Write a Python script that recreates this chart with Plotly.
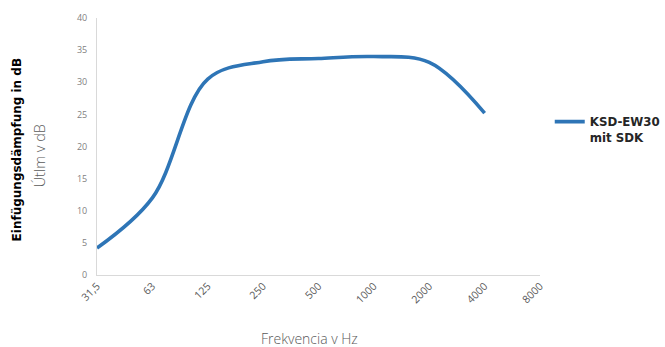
import plotly.graph_objects as go

# Octave-band centre frequencies (axis categories) and tick labels
categories = ["31.5", "63", "125", "250", "500", "1000", "2000", "4000", "8000"]
tick_labels = ["31,5", "63", "125", "250", "500", "1000", "2000", "4000", "8000"]

# Insertion loss per band in dB (no measurement at 8000 Hz)
band_freqs = ["31.5", "63", "125", "250", "500", "1000", "2000", "4000"]
insertion_loss = [4.2, 12.0, 30.5, 33.2, 33.7, 34.0, 33.1, 25.2]

series_name = "KSD-EW30<br>mit SDK"

fig = go.Figure()
fig.add_trace(go.Scatter(
    x=band_freqs,
    y=insertion_loss,
    mode="lines",
    name=series_name,
    line=dict(color="#2E75B6", width=3.6, shape="spline", smoothing=1.0),
))

fig.update_layout(
    width=665,
    height=347,
    margin=dict(l=97, r=125, t=18, b=72, autoexpand=False),
    paper_bgcolor="white",
    plot_bgcolor="white",
    showlegend=True,
    legend=dict(
        x=1.022, y=0.652, xanchor="left", yanchor="top",
        valign="top",
        font=dict(family="DejaVu Sans", size=11.8, color="#262626", weight="bold"),
        itemwidth=30,
        tracegroupgap=0,
        bgcolor="rgba(0,0,0,0)",
    ),
    xaxis=dict(
        type="category",
        categoryorder="array",
        categoryarray=categories,
        tickvals=categories,
        ticktext=tick_labels,
        range=[0, 8],
        tickangle=-45,
        tickfont=dict(family="Open Sans", size=10.5, color="#595959"),
        showgrid=False,
        showline=True,
        linecolor="#d9d9d9",
        linewidth=1,
        ticks="",
        zeroline=False,
    ),
    yaxis=dict(
        range=[0, 40],
        dtick=5,
        tickfont=dict(family="Open Sans", size=9, color="#7f7f7f"),
        ticklabelstandoff=7,
        showgrid=False,
        showline=True,
        linecolor="#d9d9d9",
        linewidth=1,
        ticks="",
        zeroline=False,
    ),
    annotations=[
        # outer (German) axis heading
        dict(
            text="<b>Einfügungsdämpfung in dB</b>",
            xref="paper", yref="paper",
            x=-0.181, y=0.488,
            xanchor="center", yanchor="middle",
            textangle=-90,
            showarrow=False,
            font=dict(family="DejaVu Sans", size=12, color="#000000"),
        ),
        # inner (Slovak) axis heading
        dict(
            text="Útlm v dB",
            xref="paper", yref="paper",
            x=-0.129, y=0.465,
            xanchor="center", yanchor="middle",
            textangle=-90,
            showarrow=False,
            font=dict(family="Open Sans", size=14.5, color="#595959", weight=300),
        ),
        # x-axis heading
        dict(
            text="Frekvencia v Hz",
            xref="paper", yref="paper",
            x=0.479, y=-0.249,
            xanchor="center", yanchor="middle",
            showarrow=False,
            font=dict(family="Open Sans", size=14, color="#595959", weight=300),
        ),
    ],
)

fig.write_html("out.html")
